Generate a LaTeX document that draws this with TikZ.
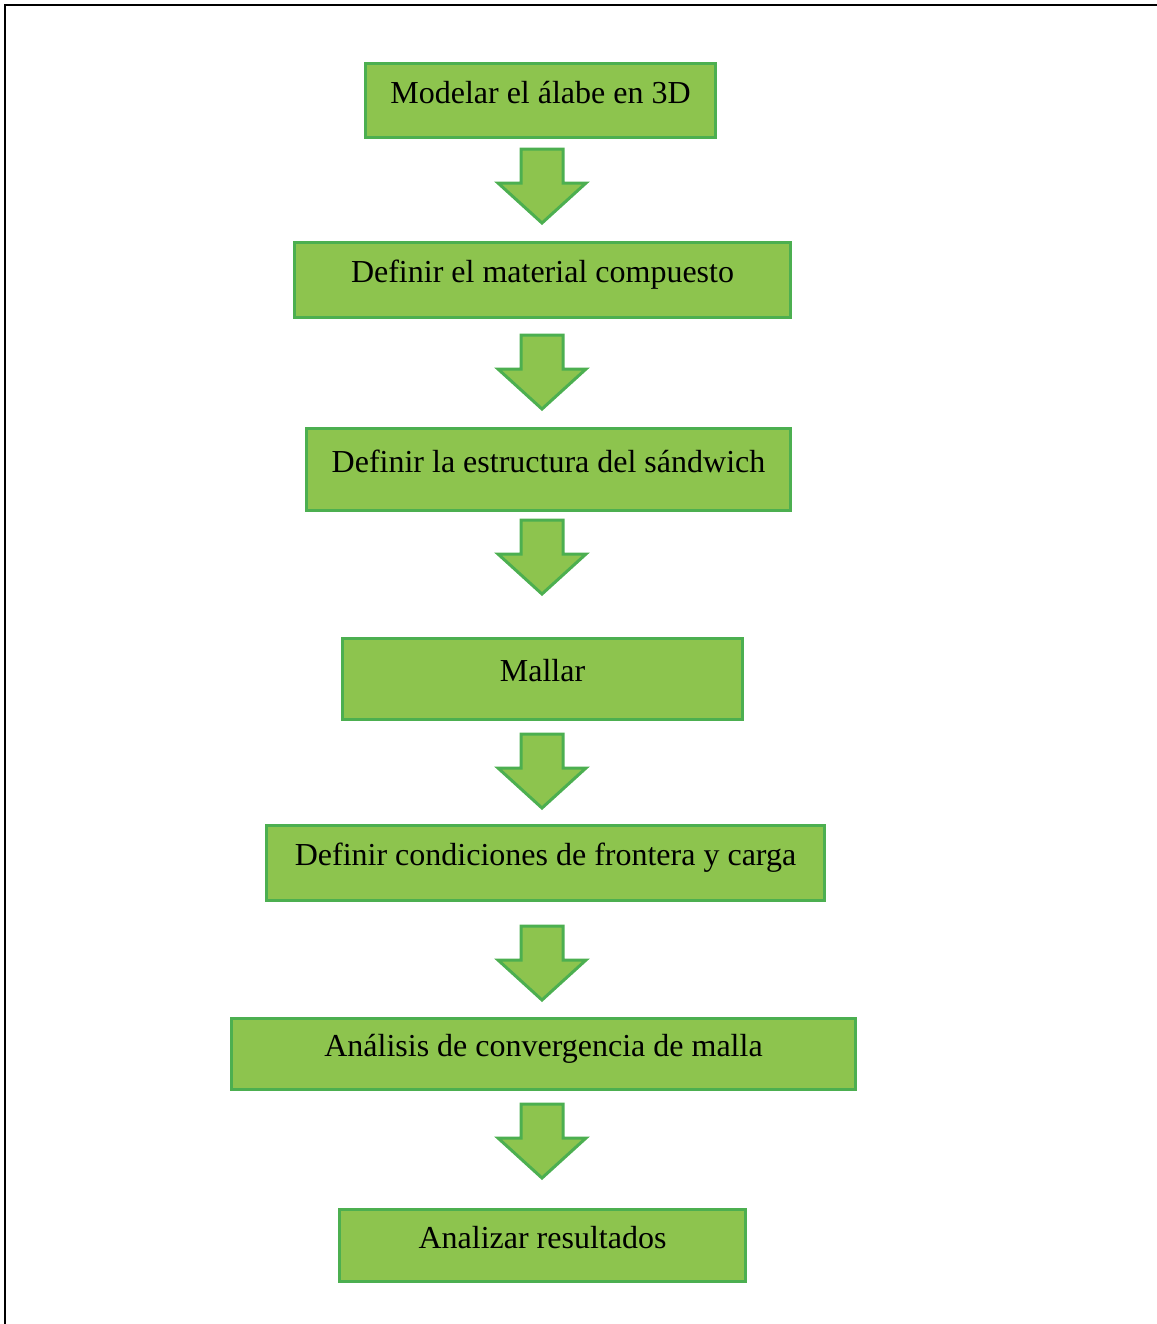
\documentclass[tikz,border=0pt]{standalone}
\usepackage{fontspec}
\setmainfont{Liberation Serif}
\usepackage{xcolor}
\usetikzlibrary{positioning}
\definecolor{leaf}{HTML}{8DC44E}
\definecolor{leafline}{HTML}{4CAF50}
\tikzset{
  stepbox/.style={
    rectangle, draw=leafline, fill=leaf, line width=1.5pt,
    font=\fontsize{16}{19}\selectfont, align=center,
    text height=0.75em, text depth=0.5em, inner sep=0pt
  },
  blockarrow/.pic={
    \draw[draw=leafline, fill=leaf, line width=1.5pt, line join=miter]
      (-21,0) -- (21,0) -- (21,34) -- (44,34) -- (0,74)
      -- (-44,34) -- (-21,34) -- cycle;
  },
}
\begin{document}
\begin{tikzpicture}[x=0.5pt, y=-0.5pt]
  \useasboundingbox (0,0) rectangle (1157,1324);
  % marco
  \draw[line width=1.4pt] (5,1324) -- (5,5) -- (1157,5);

  \node[stepbox, minimum width=175pt, minimum height=37pt] (modelo) at (540.5,100.5) {Modelar el álabe en 3D};
  \node[stepbox, minimum width=248pt, minimum height=37.5pt] (material) at (542.5,280) {Definir el material compuesto};
  \node[stepbox, minimum width=242pt, minimum height=41pt] (sandwich) at (548.5,469.5) {Definir la estructura del sándwich};
  \node[stepbox, minimum width=200pt, minimum height=40.5pt] (malla) at (542.5,679) {Mallar};
  \node[stepbox, minimum width=279pt, minimum height=37.5pt] (frontera) at (545.5,863) {Definir condiciones de frontera y carga};
  \node[stepbox, minimum width=312pt, minimum height=35.5pt] (convergencia) at (543.5,1054) {Análisis de convergencia de malla};
  \node[stepbox, minimum width=203pt, minimum height=36pt] (resultados) at (542.5,1245.5) {Analizar resultados};

  % flechas
  \foreach \y in {149,335,520,734,926,1104}
    \pic at (542,\y) {blockarrow};
\end{tikzpicture}
\end{document}
